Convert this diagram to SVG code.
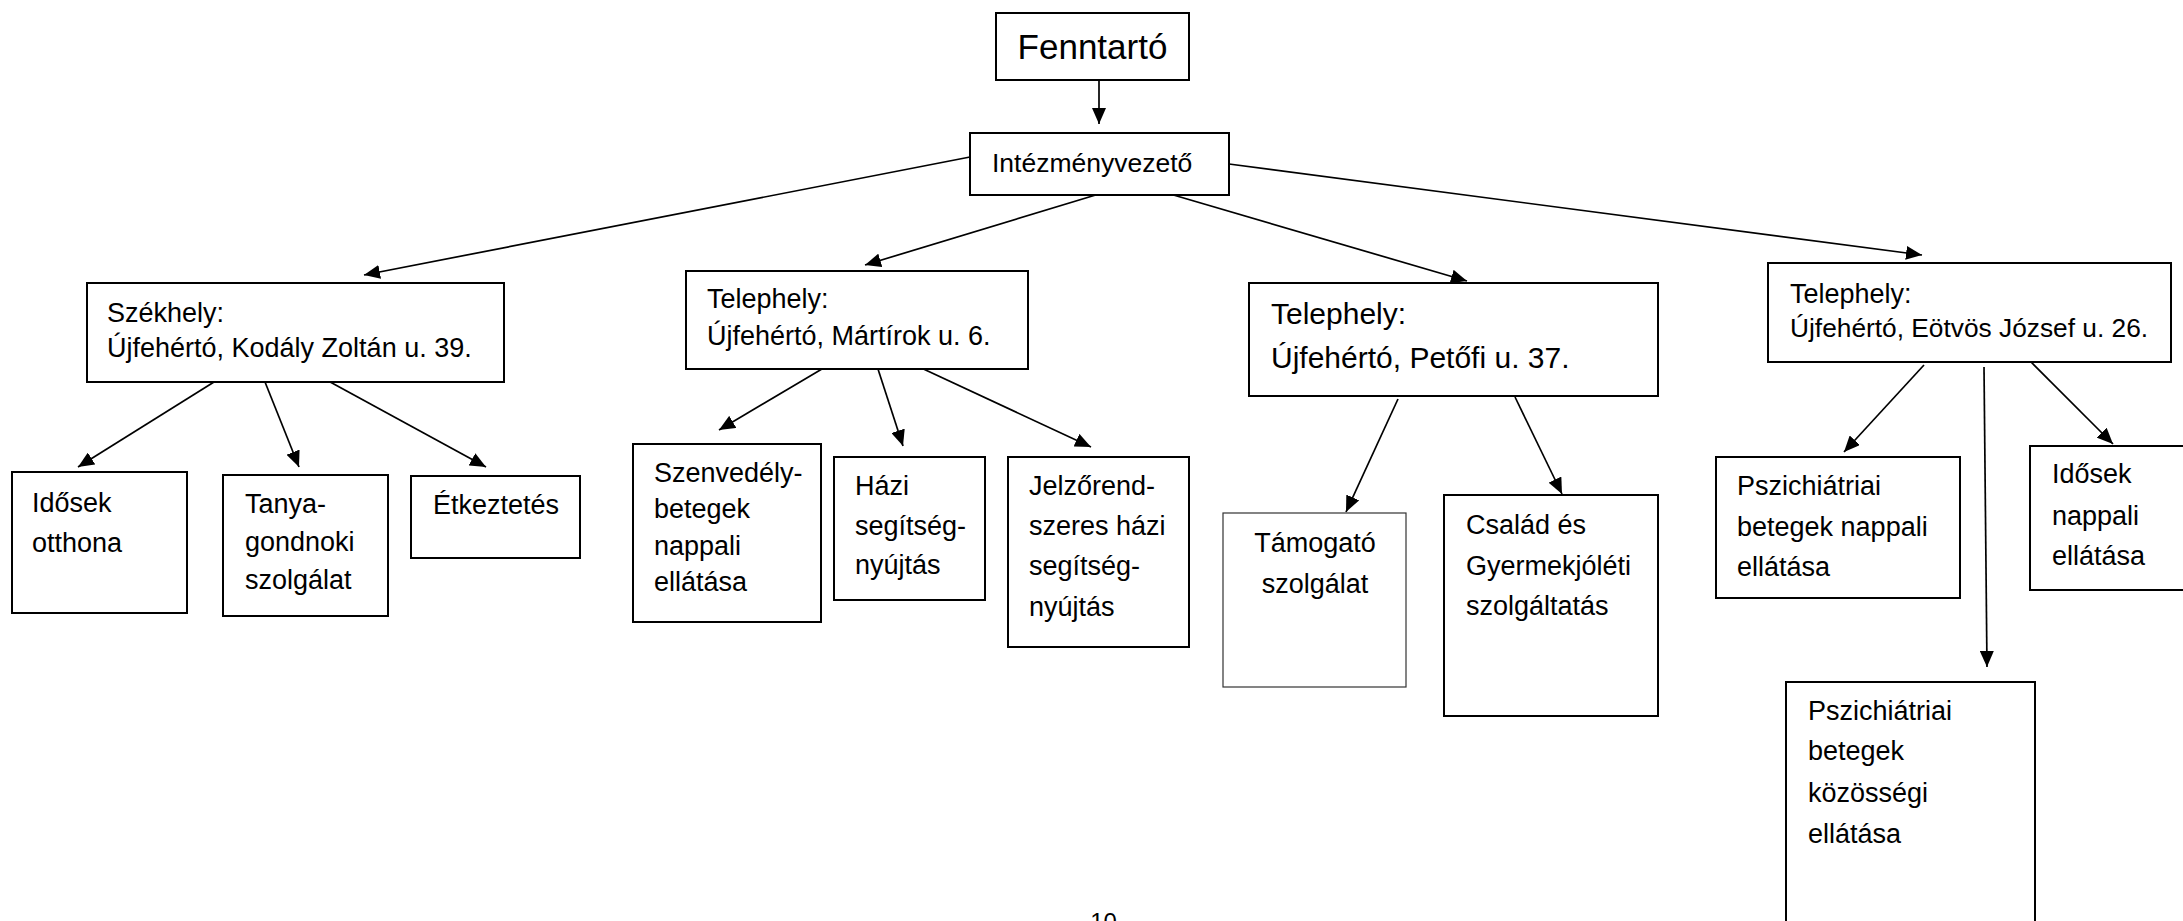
<svg xmlns="http://www.w3.org/2000/svg" width="2183" height="921" viewBox="0 0 2183 921">
<style>
  .box { fill: #fff; stroke: #000; stroke-width: 2; }
  .thin { stroke-width: 1.2; stroke: #333; }
  .t { font-family: "Liberation Sans", Arial, sans-serif; font-size: 27px; fill: #000; }
  .big { font-size: 35px; }
  .mid { font-size: 30px; }
  .c { text-anchor: middle; }
  .conn line { stroke: #000; stroke-width: 1.7; marker-end: url(#ah); }
</style>
<defs>
  <marker id="ah" markerUnits="userSpaceOnUse" markerWidth="16" markerHeight="14" refX="16" refY="7" orient="auto">
    <path d="M0,0 L16,7 L0,14 z" fill="#000"/>
  </marker>
</defs>
<rect width="2183" height="921" fill="#fff"/>

<g id="connectors" class="conn">
  <line x1="1099" y1="80" x2="1099" y2="124"/>
  <line x1="970" y1="157" x2="364" y2="275"/>
  <line x1="1099" y1="194" x2="865" y2="265"/>
  <line x1="1170" y1="194" x2="1467" y2="281"/>
  <line x1="1229" y1="164" x2="1922" y2="255"/>
  <line x1="222" y1="377" x2="78" y2="467"/>
  <line x1="263" y1="377" x2="299" y2="467"/>
  <line x1="321" y1="377" x2="486" y2="467"/>
  <line x1="827" y1="366" x2="719" y2="430"/>
  <line x1="877" y1="366" x2="903" y2="446"/>
  <line x1="917" y1="366" x2="1091" y2="447"/>
  <line x1="1398" y1="399" x2="1346" y2="512"/>
  <line x1="1515" y1="397" x2="1562" y2="494"/>
  <line x1="1924" y1="365" x2="1844" y2="452"/>
  <line x1="1984" y1="367" x2="1987" y2="667"/>
  <line x1="2031" y1="362" x2="2113" y2="444"/>
</g>

<g id="fenntarto">
  <rect class="box" x="996" y="13" width="193" height="67"/>
  <text class="t big c" x="1092.5" y="59">Fenntartó</text>
</g>
<g id="intezmenyvezeto">
  <rect class="box" x="970" y="133" width="259" height="62"/>
  <text class="t" x="992" y="172" style="font-size:26.5px">Intézményvezető</text>
</g>
<g id="szekhely">
  <rect class="box" x="87" y="283" width="417" height="99"/>
  <text class="t" x="107" y="322">Székhely:</text>
  <text class="t" x="107" y="357">Újfehértó, Kodály Zoltán u. 39.</text>
</g>
<g id="telephely-martirok">
  <rect class="box" x="686" y="271" width="342" height="98"/>
  <text class="t" x="707" y="308">Telephely:</text>
  <text class="t" x="707" y="345">Újfehértó, Mártírok u. 6.</text>
</g>
<g id="telephely-petofi">
  <rect class="box" x="1249" y="283" width="409" height="113"/>
  <text class="t mid" x="1271" y="324">Telephely:</text>
  <text class="t mid" x="1271" y="368">Újfehértó, Petőfi u. 37.</text>
</g>
<g id="telephely-eotvos">
  <rect class="box" x="1768" y="263" width="403" height="99"/>
  <text class="t" x="1790" y="303">Telephely:</text>
  <text class="t" x="1790" y="337" style="font-size:26.3px">Újfehértó, Eötvös József u. 26.</text>
</g>
<g id="idosek-otthona">
  <rect class="box" x="12" y="472" width="175" height="141"/>
  <text class="t" x="32" y="512">Idősek</text>
  <text class="t" x="32" y="552">otthona</text>
</g>
<g id="tanyagondnoki">
  <rect class="box" x="223" y="475" width="165" height="141"/>
  <text class="t" x="245" y="513">Tanya-</text>
  <text class="t" x="245" y="551">gondnoki</text>
  <text class="t" x="245" y="589">szolgálat</text>
</g>
<g id="etkeztetes">
  <rect class="box" x="411" y="476" width="169" height="82"/>
  <text class="t" x="433" y="514">Étkeztetés</text>
</g>
<g id="szenvedelybetegek">
  <rect class="box" x="633" y="444" width="188" height="178"/>
  <text class="t" x="654" y="482">Szenvedély-</text>
  <text class="t" x="654" y="518">betegek</text>
  <text class="t" x="654" y="555">nappali</text>
  <text class="t" x="654" y="591">ellátása</text>
</g>
<g id="hazi-segitsegnyujtas">
  <rect class="box" x="834" y="457" width="151" height="143"/>
  <text class="t" x="855" y="495">Házi</text>
  <text class="t" x="855" y="535">segítség-</text>
  <text class="t" x="855" y="574">nyújtás</text>
</g>
<g id="jelzorendszeres">
  <rect class="box" x="1008" y="457" width="181" height="190"/>
  <text class="t" x="1029" y="495">Jelzőrend-</text>
  <text class="t" x="1029" y="535">szeres házi</text>
  <text class="t" x="1029" y="575">segítség-</text>
  <text class="t" x="1029" y="616">nyújtás</text>
</g>
<g id="tamogato">
  <rect class="box thin" x="1223" y="513" width="183" height="174"/>
  <text class="t c" x="1315" y="552">Támogató</text>
  <text class="t c" x="1315" y="593">szolgálat</text>
</g>
<g id="csalad">
  <rect class="box" x="1444" y="495" width="214" height="221"/>
  <text class="t" x="1466" y="534">Család és</text>
  <text class="t" x="1466" y="575">Gyermekjóléti</text>
  <text class="t" x="1466" y="615">szolgáltatás</text>
</g>
<g id="pszich-nappali">
  <rect class="box" x="1716" y="457" width="244" height="141"/>
  <text class="t" x="1737" y="495">Pszichiátriai</text>
  <text class="t" x="1737" y="536">betegek nappali</text>
  <text class="t" x="1737" y="576">ellátása</text>
</g>
<g id="idosek-nappali">
  <rect class="box" x="2030" y="446" width="170" height="144"/>
  <text class="t" x="2052" y="483">Idősek</text>
  <text class="t" x="2052" y="525">nappali</text>
  <text class="t" x="2052" y="565">ellátása</text>
</g>
<g id="pszich-kozossegi">
  <rect class="box" x="1786" y="682" width="249" height="270"/>
  <text class="t" x="1808" y="720">Pszichiátriai</text>
  <text class="t" x="1808" y="760">betegek</text>
  <text class="t" x="1808" y="802">közösségi</text>
  <text class="t" x="1808" y="843">ellátása</text>
</g>
<text class="t c" x="1103.5" y="930" style="font-size:24px">10</text>
</svg>
